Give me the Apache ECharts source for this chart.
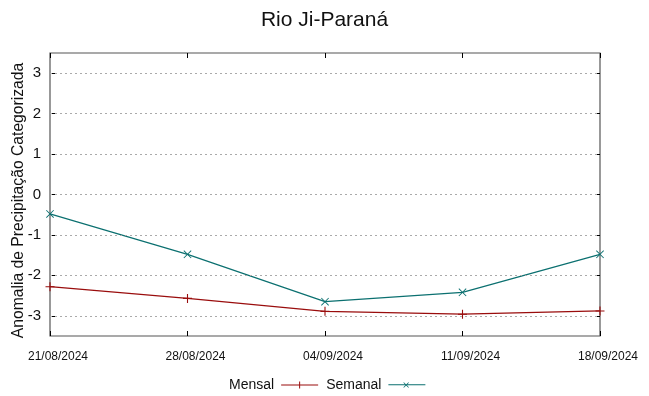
<!DOCTYPE html>
<html>
<head>
<meta charset="utf-8">
<script src="https://cdn.jsdelivr.net/npm/echarts@6/dist/echarts.min.js"></script>
<style>html,body{margin:0;padding:0;background:#fff}#c{width:649px;height:396px}</style>
</head>
<body>
<div id="c"></div>
<script>
var categories = ['21/08/2024', '28/08/2024', '04/09/2024', '11/09/2024', '18/09/2024'];
var mensal = [-2.28, -2.57, -2.89, -2.96, -2.88];
var semanal = [-0.48, -1.48, -2.65, -2.42, -1.48];
var yTicks = [-3, -2, -1, 0, 1, 2, 3];

var red = '#9a0d0d';
var teal = '#0b7070';
var plusPath = 'path://M0,4.4h10v1.2h-10z M4.4,0h1.2v10h-1.2z';
var crossPath = 'path://M0.8,0L10,9.2L9.2,10L0,0.8z M9.2,0L10,0.8L0.8,10L0,9.2z';
var legPlus = 'path://M0,9.4h37v1.2h-37z M18,6.5h1v7h-1z';
var legCross = 'path://M0,9.4h37v1.2h-37z M15.5,7.5L20.5,12.5L20,13L15,8z M20,7.5L20.5,8L15.5,13L15,12.5z';

var chart = echarts.init(document.getElementById('c'));
var font = 'Liberation Sans, Arial, sans-serif';
var yAxisBase = {
  type: 'value', min: -3.5, max: 3.5,
  axisLine: {show: false},
  axisTick: {show: true, inside: true, length: 5, customValues: yTicks, lineStyle: {color: '#000', width: 1}},
  splitLine: {show: false}
};
chart.setOption({
  animation: false,
  textStyle: {fontFamily: font},
  title: {
    text: 'Rio Ji-Paraná', left: 'center', top: 5,
    textStyle: {fontSize: 21, fontWeight: 'normal', color: '#111', fontFamily: font}
  },
  legend: {
    left: 224, top: 373, align: 'right', itemGap: 8, itemWidth: 37, itemHeight: 15,
    textStyle: {fontSize: 14, color: '#111', fontFamily: font, padding: [0, 2, 0, 0]},
    data: [
      {name: 'Mensal', icon: legPlus, itemStyle: {color: red}},
      {name: 'Semanal', icon: legCross, itemStyle: {color: teal}}
    ]
  },
  grid: {left: 50, right: 49, top: 53, bottom: 60, containLabel: false, outerBoundsMode: 'none', show: true, borderColor: '#555', borderWidth: 1.2, backgroundColor: 'transparent'},
  xAxis: [
    {
      type: 'category', data: categories, boundaryGap: false, position: 'bottom',
      axisLine: {show: false, onZero: false},
      axisTick: {show: true, inside: true, length: 5, alignWithLabel: true, lineStyle: {color: '#000'}},
      axisLabel: {fontSize: 12, color: '#111', margin: 15, interval: 0, fontFamily: font, padding: [0, 0, 0, 16]},
      splitLine: {show: false}
    },
    {
      type: 'category', data: categories, boundaryGap: false, position: 'top',
      axisLine: {show: false, onZero: false},
      axisTick: {show: true, inside: true, length: 5, lineStyle: {color: '#000'}},
      axisLabel: {show: false},
      splitLine: {show: false}
    }
  ],
  yAxis: [
    Object.assign({}, yAxisBase, {
      position: 'left',
      name: 'Anomalia de Precipitação Categorizada', nameLocation: 'middle', nameGap: 23,
      nameMoveOverlap: false,
      nameTextStyle: {fontSize: 15.7, color: '#111', fontFamily: font, padding: [0, 12, 0, 0]},
      axisLabel: {fontSize: 15, color: '#111', margin: 9, customValues: yTicks, fontFamily: font}
    }),
    Object.assign({}, yAxisBase, {
      position: 'right',
      axisLabel: {show: false}
    })
  ],
  series: [
    {
      name: 'grid', type: 'line', data: [], silent: true, xAxisIndex: 0, yAxisIndex: 0,
      markLine: {
        silent: true, symbol: 'none', label: {show: false}, animation: false,
        lineStyle: {color: '#aaa', type: [2, 3], width: 1},
        data: yTicks.map(function (v) { return {yAxis: v}; })
      }
    },
    {
      name: 'Mensal', type: 'line', data: mensal, xAxisIndex: 0, yAxisIndex: 0,
      symbol: plusPath, symbolSize: 9, showSymbol: true,
      lineStyle: {color: red, width: 1.2}, itemStyle: {color: red}
    },
    {
      name: 'Semanal', type: 'line', data: semanal, xAxisIndex: 0, yAxisIndex: 0,
      symbol: crossPath, symbolSize: 8, showSymbol: true,
      lineStyle: {color: teal, width: 1.2}, itemStyle: {color: teal}
    }
  ]
});
</script>
</body>
</html>
